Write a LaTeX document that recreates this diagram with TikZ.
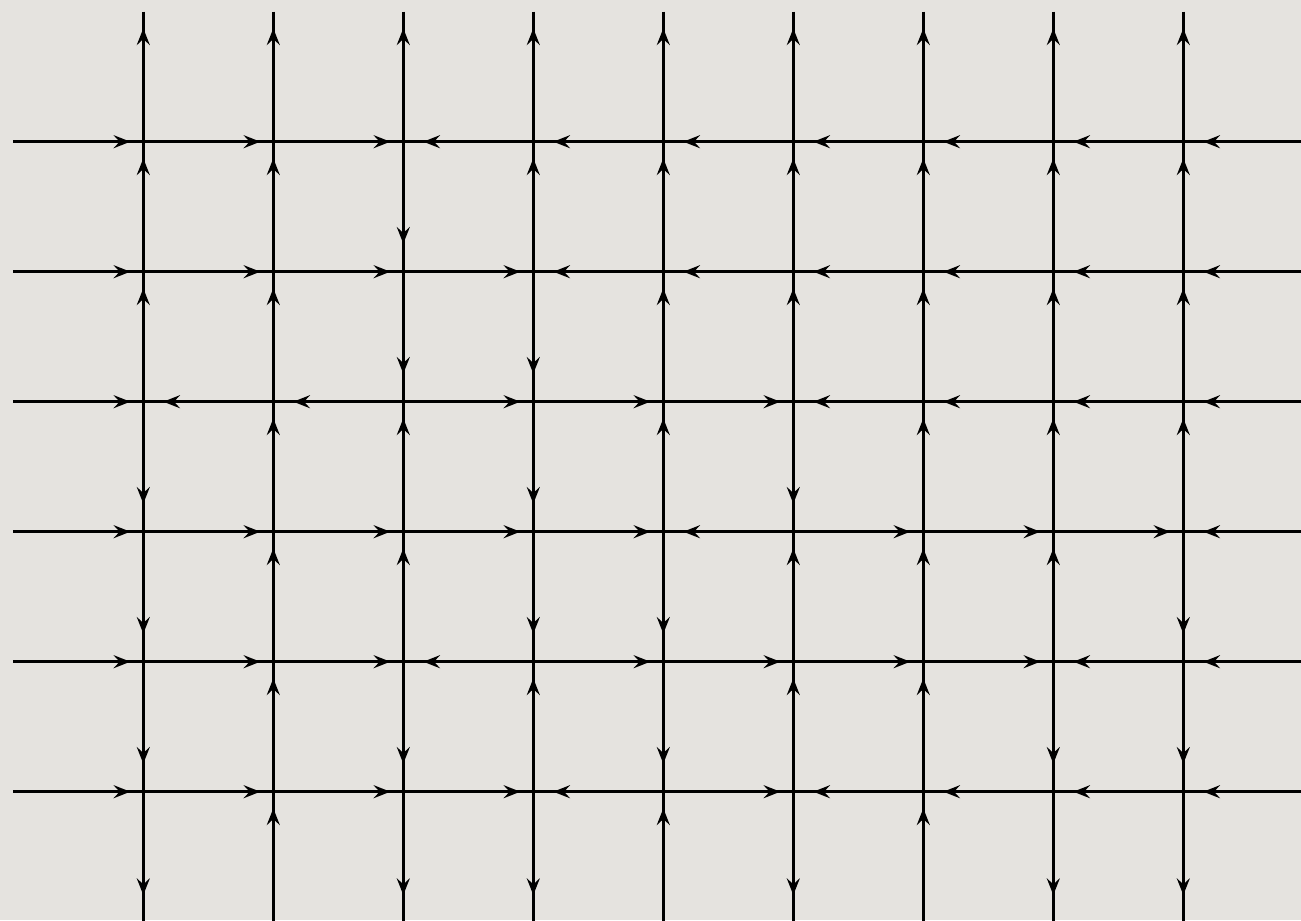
\documentclass[tikz,border=0pt]{standalone}
\usetikzlibrary{arrows.meta}
\definecolor{bgcol}{RGB}{229,227,223}
\tikzset{
  gridline/.style={line width=2.2pt, draw=black},
  arrR/.style={gridline, ->, shorten >=9.75pt},
  arrL/.style={gridline, <-, shorten <=15pt},
  arrU/.style={gridline, <-, shorten <=12.5pt},
  arrD/.style={gridline, ->, shorten >=21pt}
}
\begin{document}
\begin{tikzpicture}[x=0.75pt,y=-0.75pt,
  >={Stealth[length=12.5pt,width=9.75pt,inset=4.5pt]}]
\useasboundingbox (0,0) rectangle (1301,920);
\fill[bgcol] (0,0) rectangle (1301,920);
\clip (0,0) rectangle (1301,920);
% horizontal line points: h-i-0 left end, h-i-(j+1) vertex j, h-i-10 right end
\foreach \i in {0,...,5}{
  \pgfmathsetmacro\yy{141.7+130*\i}
  \coordinate (h-\i-0) at (13.3,\yy);
  \coordinate (h-\i-10) at (1301,\yy);
  \foreach \j in {0,...,8}{
    \pgfmathtruncatemacro\jn{\j+1}
    \coordinate (h-\i-\jn) at ({143.3+130*\j},\yy);
  }
}
% vertical line points: c-j-0 top end, c-j-(i+1) vertex i, c-j-7 bottom end
\foreach \j in {0,...,8}{
  \pgfmathsetmacro\xx{143.3+130*\j}
  \coordinate (c-\j-0) at (\xx,11.7);
  \coordinate (c-\j-7) at (\xx,923);
  \foreach \i in {0,...,5}{
    \pgfmathtruncatemacro\in{\i+1}
    \coordinate (c-\j-\in) at (\xx,{141.7+130*\i});
  }
}
% horizontal edges
\foreach \row [count=\i from 0] in {
  {R,R,R,L,L,L,L,L,L,L},
  {R,R,R,R,L,L,L,L,L,L},
  {R,L,L,R,R,R,L,L,L,L},
  {R,R,R,R,R,L,R,R,R,L},
  {R,R,R,L,R,R,R,R,L,L},
  {R,R,R,R,L,R,L,L,L,L}}{
  \foreach \d [count=\k from 0] in \row {
    \pgfmathtruncatemacro\kn{\k+1}
    \draw[gridline] (h-\i-\k) -- (h-\i-\kn);
    \draw[arr\d] (h-\i-\k) -- (h-\i-\kn);
  }
}
% vertical edges
\foreach \col [count=\j from 0] in {
  {U,U,U,D,D,D,D},
  {U,U,U,U,U,U,U},
  {U,D,D,U,U,D,D},
  {U,U,D,D,D,U,D},
  {U,U,U,U,D,D,U},
  {U,U,U,D,U,U,D},
  {U,U,U,U,U,U,U},
  {U,U,U,U,U,D,D},
  {U,U,U,U,D,D,D}}{
  \foreach \d [count=\m from 0] in \col {
    \pgfmathtruncatemacro\mn{\m+1}
    \draw[gridline] (c-\j-\m) -- (c-\j-\mn);
    \draw[arr\d] (c-\j-\m) -- (c-\j-\mn);
  }
}
\end{tikzpicture}
\end{document}
